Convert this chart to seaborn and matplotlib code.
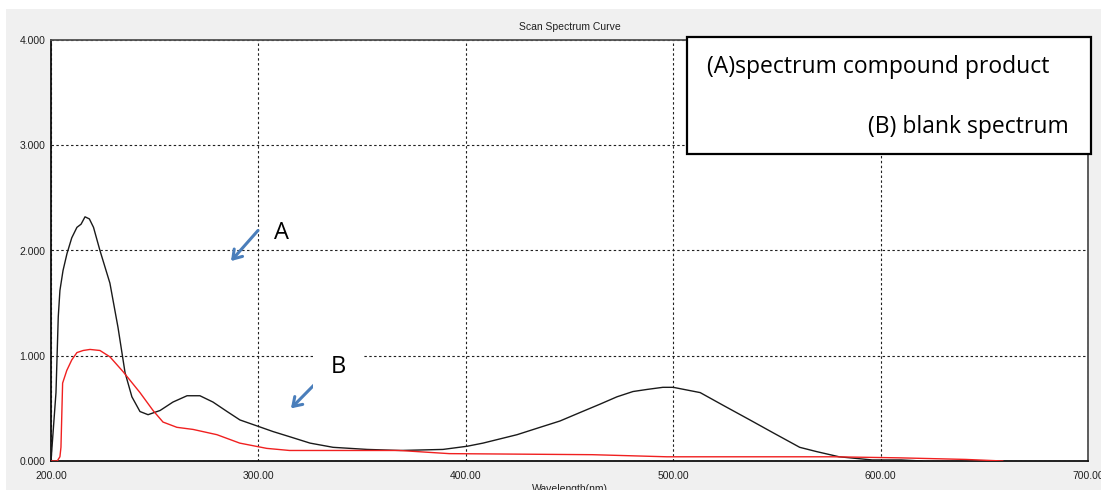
import matplotlib
matplotlib.use("Agg")
import matplotlib.pyplot as plt
from matplotlib.patches import Rectangle
import seaborn as sns
import pandas as pd

# Spectrum of the compound product (A)
wl_a = [200, 202.4, 203.5, 204.3, 205.8, 207.7, 210, 212.5, 214.5, 216.4, 218.5,
        220.5, 223.6, 228.4, 232.3, 235.7, 239, 242.9, 246.8, 252.6, 258.8,
        265.6, 271.8, 278.1, 284.9, 291.1, 299.8, 307, 315.2, 324.9, 336,
        352.4, 368.3, 389, 400.6, 408.3, 424.7, 435.8, 445.4, 455, 464.7,
        472.9, 480.6, 487.4, 495, 500, 513, 524, 537, 548, 561, 569, 580,
        596, 610, 620]
abs_a = [0.0, 0.65, 1.37, 1.62, 1.81, 1.97, 2.12, 2.22, 2.25, 2.32, 2.30,
         2.22, 2.00, 1.69, 1.27, 0.84, 0.61, 0.47, 0.44, 0.48, 0.56,
         0.62, 0.62, 0.56, 0.47, 0.39, 0.33, 0.28, 0.23, 0.17, 0.13,
         0.11, 0.10, 0.11, 0.14, 0.17, 0.25, 0.32, 0.38, 0.46, 0.54,
         0.61, 0.66, 0.68, 0.70, 0.70, 0.65, 0.53, 0.39, 0.27, 0.13, 0.09, 0.04,
         0.01, 0.01, 0.0]

# Blank spectrum (B)
wl_b = [200, 203, 204.3, 204.8, 205.6, 207.6, 210, 212.5, 215.5, 218.8,
        223.6, 228.4, 234.7, 242.9, 249.2, 254, 260.7, 268.5, 280, 291, 304,
        315, 336, 368, 392, 461, 497, 513, 577, 609, 641, 659]
abs_b = [0.0, 0.0, 0.04, 0.13, 0.74, 0.86, 0.96, 1.03, 1.05, 1.06,
         1.05, 0.99, 0.85, 0.65, 0.48, 0.37, 0.32, 0.30, 0.25, 0.17, 0.12,
         0.10, 0.10, 0.10, 0.07, 0.06, 0.04, 0.04, 0.04, 0.03, 0.015, 0.0]

x_ticks = [200, 300, 400, 500, 600, 700]
y_ticks = [0, 1, 2, 3, 4]
title = "Scan Spectrum Curve"
x_label = "Wavelength(nm)"
legend_lines = ["(A)spectrum compound product", "(B) blank spectrum"]

df_a = pd.DataFrame({"wl": wl_a, "abs": abs_a})
df_b = pd.DataFrame({"wl": wl_b, "abs": abs_b})

sns.set_style("white")
plt.rcParams["font.family"] = ["Liberation Sans", "DejaVu Sans"]

W, H = 1101, 490
fig = plt.figure(figsize=(W / 100, H / 100), dpi=100)
fig.patch.set_facecolor("white")
# window-style grey panel behind the plot
fig.patches.append(Rectangle((6 / W, 0), 1 - 6 / W, 1 - 9 / H,
                             transform=fig.transFigure, facecolor="#f0f0f0",
                             edgecolor="none", zorder=-10))

ax = fig.add_axes([51 / W, 29 / H, (1088 - 51) / W, (461 - 40) / H])
ax.set_facecolor("white")

sns.lineplot(data=df_a, x="wl", y="abs", ax=ax, color="#1a1a1a", lw=1.0,
             zorder=3)
sns.lineplot(data=df_b, x="wl", y="abs", ax=ax, color="#f02020", lw=1.0,
             zorder=3)

ax.set_xlim(200, 700)
ax.set_ylim(0, 4)
ax.set_xticks(x_ticks)
ax.set_xticklabels([f"{v:.2f}" for v in x_ticks])
ax.set_yticks(y_ticks)
ax.set_yticklabels([f"{v:.3f}" for v in y_ticks])
ax.tick_params(axis="both", labelsize=7.5, colors="#202020", length=0)
ax.tick_params(axis="y", pad=4)
ax.tick_params(axis="x", pad=7)

ax.grid(True, color="#202020", linestyle=(0, (2.2, 2.2)), lw=0.8, zorder=1)
ax.set_axisbelow(True)

for side in ["top", "right"]:
    ax.spines[side].set_color("#505050")
    ax.spines[side].set_linewidth(1.3)
for side in ["left", "bottom"]:
    ax.spines[side].set_color("#101010")
    ax.spines[side].set_linewidth(1.3)

ax.set_title(title, fontsize=7.5, pad=7, color="#202020")
ax.set_xlabel(x_label, fontsize=7.5, labelpad=2, color="#202020")
ax.set_ylabel("")

# curve annotations
arrow_kw = dict(arrowstyle="->,head_length=0.6,head_width=0.4",
                color="#4a7ebb", lw=2.2, shrinkA=0, shrinkB=0)
ax.annotate("", xy=(286.8, 1.90), xytext=(299.8, 2.19), arrowprops=arrow_kw,
            zorder=5)
ax.annotate("", xy=(315.7, 0.50), xytext=(330.7, 0.80), arrowprops=arrow_kw,
            zorder=5)
label_font = ["Open Sans", "DejaVu Sans"]
ax.text(310.9, 2.17, "A", fontsize=17, family=label_font, color="black",
        ha="center", va="center", zorder=6)
ax.text(338.4, 0.89, "B", fontsize=17, family=label_font, color="black",
        ha="center", va="center", zorder=6,
        bbox=dict(boxstyle="square,pad=0.75", facecolor="white",
                  edgecolor="none"))

# caption box
x0, y0, x1, y1 = 687, 37, 1091, 154
fig.patches.append(Rectangle((x0 / W, 1 - y1 / H), (x1 - x0) / W, (y1 - y0) / H,
                             transform=fig.transFigure, facecolor="white",
                             edgecolor="black", lw=1.6, zorder=10))
fig.text(707 / W, 1 - 67 / H, legend_lines[0], fontsize=16.5, family=label_font,
         color="black", ha="left", va="center", zorder=11)
fig.text(1069 / W, 1 - 127 / H, legend_lines[1], fontsize=16.5,
         family=label_font, color="black", ha="right", va="center", zorder=11)

fig.savefig("out.png", dpi=100)
